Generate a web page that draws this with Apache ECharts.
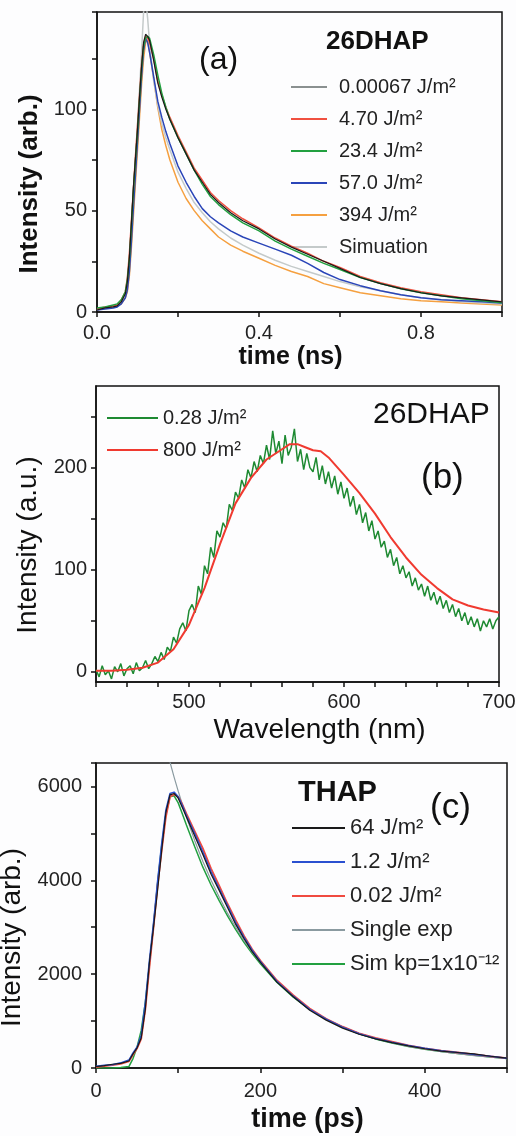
<!DOCTYPE html>
<html>
<head>
<meta charset="utf-8">
<script src="https://cdn.jsdelivr.net/npm/echarts@6/dist/echarts.min.js"></script>
<style>
  html, body { margin: 0; padding: 0; background: #fff; }
  #fig { width: 516px; height: 1136px; }
</style>
</head>
<body>
<div id="fig"></div>
<script>
// ---- panel (a) : 26DHAP decay, time in ns
var tA = [0, 0.02, 0.04, 0.05, 0.06, 0.07, 0.075, 0.08, 0.085, 0.09, 0.095, 0.10, 0.105, 0.11, 0.115, 0.12, 0.125, 0.13, 0.14, 0.15, 0.16, 0.17, 0.18, 0.20, 0.22, 0.24, 0.26, 0.28, 0.30, 0.33, 0.36, 0.40, 0.44, 0.48, 0.52, 0.56, 0.60, 0.65, 0.70, 0.75, 0.80, 0.85, 0.90, 0.95, 1.0];
var a00067 = [1, 2, 2.5, 3, 5, 9, 15, 27, 44, 62, 76, 90, 106, 121, 133, 137, 136, 134, 124, 113, 106, 100, 95, 86, 78, 70, 64, 58, 54, 49, 45, 41, 36, 32, 28.5, 25, 21.5, 17, 14, 11.5, 9.5, 8, 7, 6, 5];
var a470 = [1.5, 2.5, 3, 3.5, 6, 10, 17, 29, 45, 61, 77, 92, 107, 122, 132, 136, 135, 133, 125, 114, 107, 101, 96, 87, 79, 71, 65, 59, 55, 50, 46, 41.5, 36.5, 32.5, 29, 25, 22, 17.5, 14.5, 12, 10, 8.5, 7, 6, 5];
var a234 = [2, 2.5, 3.5, 4, 6, 10, 16, 26, 43, 60, 75, 89, 105, 120, 131, 135, 136, 135, 127, 117, 108, 101, 95, 86, 78, 70, 63, 57, 53, 48, 44, 40, 35, 31, 27.5, 24, 21, 17, 14, 11.5, 9.5, 8, 6.5, 5.5, 4.5];
var a570 = [1, 1.5, 2, 2.5, 4, 7, 11, 20, 35, 52, 68, 84, 100, 116, 129, 135, 133, 128, 116, 104, 96, 89, 83, 72, 64, 57, 51, 47, 44, 40, 37, 34, 31, 28, 24, 19.5, 16, 13, 10.5, 8.5, 7, 6, 5.5, 5, 4.5];
var a394 = [1, 2, 2.5, 3, 4, 7, 10, 18, 32, 48, 64, 80, 96, 112, 125, 133, 134, 128, 115, 101, 90, 82, 75, 64, 56, 50, 45, 41, 37, 33, 30, 26.5, 23, 20, 17.5, 14, 12, 9.5, 8, 6.5, 5.5, 5, 4.5, 4, 3.5];
var aSim = [1, 2, 2.5, 3, 5, 9, 15, 27, 44, 60, 76, 92, 110, 128, 148, 155, 145, 132, 114, 102, 93, 86, 80, 69, 61, 54, 49, 44.5, 41, 36.5, 33, 29, 25.5, 22.5, 20, 17.5, 15, 12.5, 10.5, 8.5, 7, 6, 5, 4.5, 4];

// ---- panel (b) : 26DHAP emission spectra
var wlGreen = [440, 442, 444, 446, 448, 450, 452, 454, 456, 458, 460, 462, 464, 466, 468, 470, 472, 474, 476, 478, 480, 482, 484, 486, 488, 490, 492, 494, 496, 498, 500, 502, 504, 506, 508, 510, 512, 514, 516, 518, 520, 522, 524, 526, 528, 530, 532, 534, 536, 538, 540, 542, 544, 546, 548, 550, 552, 554, 556, 558, 560, 562, 564, 566, 568, 570, 572, 574, 576, 578, 580, 582, 584, 586, 588, 590, 592, 594, 596, 598, 600, 602, 604, 606, 608, 610, 612, 614, 616, 618, 620, 622, 624, 626, 628, 630, 632, 634, 636, 638, 640, 642, 644, 646, 648, 650, 652, 654, 656, 658, 660, 662, 664, 666, 668, 670, 672, 674, 676, 678, 680, 682, 684, 686, 688, 690, 692, 694, 696, 698, 700];
var b028 = [2, -5, 6, -3, 1, -7, 5, 0, 8, -4, 3, 6, -2, 9, 1, 4, 11, 3, 8, 15, 10, 19, 12, 24, 20, 34, 28, 42, 48, 40, 60, 66, 58, 84, 76, 104, 96, 122, 112, 138, 132, 146, 140, 164, 158, 176, 170, 188, 180, 198, 190, 206, 196, 212, 204, 222, 208, 236, 214, 226, 204, 232, 212, 220, 238, 206, 218, 198, 214, 200, 196, 210, 188, 202, 184, 196, 180, 192, 174, 186, 170, 180, 162, 172, 154, 164, 146, 156, 138, 148, 130, 138, 122, 128, 112, 120, 104, 112, 96, 104, 92, 98, 84, 92, 80, 86, 74, 84, 70, 78, 66, 74, 62, 70, 58, 66, 54, 62, 50, 58, 46, 54, 44, 52, 40, 50, 44, 52, 42, 50, 54];
var wlRed = [440, 450, 460, 470, 480, 490, 500, 510, 520, 530, 540, 550, 560, 565, 570, 575, 580, 585, 590, 600, 610, 620, 630, 640, 650, 660, 670, 680, 690, 700];
var b800 = [1, 1, 2, 4, 9, 22, 46, 82, 125, 165, 190, 208, 218, 223, 223, 220, 217, 216, 210, 193, 175, 155, 132, 112, 95, 82, 71, 65, 61, 58];
var bTicks = [0, 50, 100, 150, 200, 250];
var bLabels = [0, 100, 200];

// ---- panel (c) : THAP decay, time in ps
var tC = [0, 10, 20, 30, 40, 45, 50, 55, 60, 65, 70, 75, 80, 85, 90, 95, 100, 105, 110, 120, 130, 140, 150, 160, 170, 180, 190, 200, 220, 240, 260, 280, 300, 320, 340, 360, 380, 400, 420, 440, 460, 480, 500];
var c64 = [30, 50, 80, 100, 150, 300, 430, 640, 1250, 2250, 3000, 3800, 4650, 5450, 5820, 5850, 5750, 5550, 5350, 4950, 4550, 4130, 3780, 3420, 3060, 2760, 2480, 2250, 1830, 1520, 1230, 1020, 850, 720, 620, 540, 470, 410, 360, 330, 300, 250, 210];
var c12 = [40, 60, 70, 110, 170, 320, 450, 700, 1400, 2300, 3100, 4000, 4800, 5500, 5850, 5880, 5780, 5600, 5380, 5000, 4600, 4180, 3820, 3460, 3100, 2790, 2510, 2270, 1850, 1530, 1250, 1040, 870, 730, 630, 550, 480, 420, 370, 330, 290, 250, 210];
var c002 = [20, 40, 60, 90, 140, 280, 420, 620, 1250, 2150, 3000, 3900, 4650, 5350, 5780, 5830, 5780, 5620, 5420, 5050, 4680, 4250, 3880, 3500, 3150, 2820, 2530, 2290, 1870, 1550, 1270, 1050, 880, 740, 640, 560, 480, 420, 370, 330, 290, 250, 210];
var cSim = [0, 0, 0, 10, 30, 200, 450, 800, 1400, 2200, 3050, 3950, 4750, 5400, 5780, 5800, 5650, 5420, 5180, 4720, 4280, 3900, 3560, 3240, 2950, 2680, 2440, 2220, 1830, 1510, 1250, 1040, 870, 730, 620, 530, 460, 400, 350, 310, 270, 235, 200];
var tExp = [85, 90, 95, 100, 105, 110, 120, 130, 140, 150, 160, 170, 180, 190, 200, 220, 240, 260, 280, 300, 320, 340, 360, 380, 400, 420, 440, 460, 480, 500];
var cExp = [7000, 6520, 6200, 5900, 5620, 5350, 4850, 4400, 4000, 3640, 3300, 3000, 2720, 2470, 2250, 1860, 1530, 1260, 1040, 880, 740, 630, 540, 460, 400, 350, 305, 265, 230, 200];

var fig = echarts.init(document.getElementById('fig'));

function pairs(xs, ys) {
  return xs.map(function (x, i) { return [x, ys[i]]; });
}

function line(name, xi, xs, ys, color, width, z) {
  return {
    name: name,
    type: 'line',
    xAxisIndex: xi,
    yAxisIndex: xi,
    data: pairs(xs, ys),
    symbol: 'none',
    clip: true,
    z: z || 2,
    itemStyle: { color: color },
    lineStyle: { color: color, width: width || 1.5 },
    animation: false
  };
}

var tickStyle = { show: true, inside: false, length: 5, lineStyle: { color: '#111', width: 1.5 } };
var lineAxis = { show: true, onZero: false, lineStyle: { color: '#111', width: 1.5 } };
var labelFont = 'Liberation Sans, Arial, sans-serif';

function xAx(grid, min, max, step, fmt, name, nameSize, bold, gap, pad, margin) {
  return {
    gridIndex: grid, type: 'value', min: min, max: max, interval: step,
    axisLine: lineAxis, axisTick: tickStyle, splitLine: { show: false },
    axisLabel: { color: '#222', fontSize: 20, fontFamily: labelFont, margin: margin, formatter: fmt },
    name: name, nameLocation: 'middle', nameGap: gap,
    nameTextStyle: { color: '#111', fontSize: nameSize, fontWeight: bold ? 'bold' : 'normal', fontFamily: labelFont, padding: pad, verticalAlign: 'top' }
  };
}

function yAx(grid, min, max, step, fmt, name, nameSize, bold, gap, pad, margin) {
  return {
    gridIndex: grid, type: 'value', min: min, max: max, interval: step,
    axisLine: lineAxis, axisTick: tickStyle, splitLine: { show: false },
    axisLabel: { color: '#222', fontSize: 20, fontFamily: labelFont, margin: margin, formatter: fmt },
    name: name, nameLocation: 'middle', nameGap: gap, nameRotate: 90,
    nameTextStyle: { color: '#111', fontSize: nameSize, fontWeight: bold ? 'bold' : 'normal', fontFamily: labelFont, padding: pad }
  };
}

// spectrum intensity axis starts below zero, so place its ticks explicitly
var yB = yAx(1, -10, 280, 50, null, 'Intensity (a.u.)', 28, false, 53, [0, 22, 0, 0], 9);
yB.axisTick = Object.assign({ customValues: bTicks }, tickStyle);
yB.axisLabel.customValues = bLabels;
delete yB.axisLabel.formatter;

var legendText = { color: '#222', fontSize: 20, fontFamily: labelFont };
var box = { show: true, borderColor: '#111', borderWidth: 1.5, backgroundColor: 'transparent', containLabel: false, outerBoundsMode: 'none' };

option = {
  backgroundColor: '#fdfdfe',
  grid: [
    Object.assign({ left: 97, top: 12, width: 405, height: 300 }, box),
    Object.assign({ left: 96, top: 386, width: 403, height: 296 }, box),
    Object.assign({ left: 96, top: 763, width: 411, height: 305 }, box)
  ],
  xAxis: [
    xAx(0, 0, 1.0, 0.2, function (v) { return Math.round(v * 10) % 4 === 0 ? v.toFixed(1) : ''; }, 'time (ns)', 25, true, 33, [0, 18, 0, 0], 11),
    xAx(1, 440, 700, 20, function (v) { return v % 100 === 0 ? v : ''; }, 'Wavelength (nm)', 28, false, 34, [0, 0, 0, 44], 10),
    xAx(2, 0, 500, 100, function (v) { return v % 200 === 0 ? v : ''; }, 'time (ps)', 27, true, 38, [0, 0, 0, 12], 13)
  ],
  yAxis: [
    yAx(0, 0, 148, 25, function (v) { return v % 50 === 0 ? v : ''; }, 'Intensity (arb.)', 26, true, 54, [0, 44, 0, 0], 10),
    yB,
    yAx(2, 0, 6500, 1000, function (v) { return v % 2000 === 0 ? v : ''; }, 'Intensity (arb.)', 28, false, 60, [0, 44, 0, 0], 14)
  ],
  legend: [
    {
      left: 286, top: 72, orient: 'vertical', icon: 'rect', itemWidth: 36, itemHeight: 2, itemGap: 12,
      selectedMode: false, textStyle: Object.assign({ lineHeight: 20, padding: [0, 0, 0, 7] }, legendText),
      data: [
        { name: '0.00067 J/m²', lineStyle: { color: '#8a9090' }, itemStyle: { color: '#8a9090' } },
        '4.70 J/m²', '23.4 J/m²', '57.0 J/m²', '394 J/m²', 'Simuation'
      ]
    },
    {
      left: 102, top: 403, orient: 'vertical', icon: 'rect', itemWidth: 51, itemHeight: 2, itemGap: 12,
      selectedMode: false, textStyle: Object.assign({ lineHeight: 20 }, legendText),
      data: ['0.28 J/m²', '800 J/m²']
    },
    {
      left: 287, top: 812, orient: 'vertical', icon: 'rect', itemWidth: 53, itemHeight: 2, itemGap: 12,
      selectedMode: false, textStyle: Object.assign({ lineHeight: 22 }, legendText, { fontSize: 22 }),
      data: ['64 J/m²', '1.2 J/m²', '0.02 J/m²', 'Single exp', 'Sim kp=1x10⁻¹²']
    }
  ],
  graphic: [
    { type: 'text', left: 326, top: 29, style: { text: '26DHAP', fontSize: 26, fontWeight: 'bold', fontFamily: labelFont, fill: '#111' } },
    { type: 'text', left: 199, top: 44, style: { text: '(a)', fontSize: 32, fontFamily: labelFont, fill: '#111' } },
    { type: 'text', left: 373, top: 400, style: { text: '26DHAP', fontSize: 30, fontFamily: labelFont, fill: '#111' } },
    { type: 'text', left: 421, top: 461, style: { text: '(b)', fontSize: 35, fontFamily: labelFont, fill: '#111' } },
    { type: 'text', left: 298, top: 778, style: { text: 'THAP', fontSize: 29, fontWeight: 'bold', fontFamily: labelFont, fill: '#111' } },
    { type: 'text', left: 430, top: 791, style: { text: '(c)', fontSize: 35, fontFamily: labelFont, fill: '#111' } }
  ],
  series: [
    // (a)
    line('394 J/m²', 0, tA, a394, '#f5a040', 1.5, 2),
    line('Simuation', 0, tA, aSim, '#c4caca', 1.5, 3),
    line('57.0 J/m²', 0, tA, a570, '#2a45b8', 1.5, 4),
    line('4.70 J/m²', 0, tA, a470, '#f05040', 1.5, 5),
    line('23.4 J/m²', 0, tA, a234, '#22a040', 1.5, 6),
    line('0.00067 J/m²', 0, tA, a00067, '#1a1a1a', 1.2, 7),
    // (b)
    line('0.28 J/m²', 1, wlGreen, b028, '#1e8a32', 1.5, 2),
    line('800 J/m²', 1, wlRed, b800, '#f03a30', 2, 3),
    // (c)
    line('Sim kp=1x10⁻¹²', 2, tC, cSim, '#22a040', 1.5, 2),
    line('Single exp', 2, tExp, cExp, '#8a9aa0', 1.2, 3),
    line('0.02 J/m²', 2, tC, c002, '#f04a40', 1.8, 4),
    line('1.2 J/m²', 2, tC, c12, '#2a50d0', 1.5, 5),
    line('64 J/m²', 2, tC, c64, '#1a1a1a', 1.2, 6)
  ]
};

if (option && typeof option === "object") {
  fig.setOption(option, true);
}
</script>
</body>
</html>
